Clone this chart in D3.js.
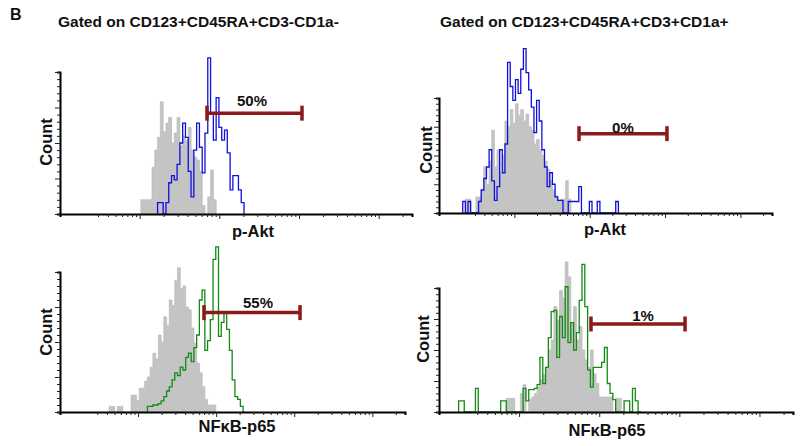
<!DOCTYPE html>
<html>
<head>
<meta charset="utf-8">
<script src="https://cdn.jsdelivr.net/npm/d3@7"></script>
<style>
body { margin: 0; background: #fff; }
text { font-family: "Liberation Sans", Arial, sans-serif; font-weight: bold; fill: #111; }
</style>
</head>
<body>
<script>
// histogram bins: equal width on the log axis
const binStep = 0.035;   // decades per bin
const logMin = 1;        // axis starts at 10^1
const maxValue = 262144; // axis ends at 2^18

const titles = ["Gated on CD123+CD45RA+CD3-CD1a-", "Gated on CD123+CD45RA+CD3+CD1a+"];
const markers = ["p-Akt", "p-Akt", "NF\u03BAB-p65", "NF\u03BAB-p65"];

// p-Akt, CD3-CD1a- (grey = control, blue = stain)
const aktNegCtrlStart = 29;
const aktNegCtrl = [10, 10, 10, 10, 33, 45, 54, 79, 58, 64, 68, 50, 57, 68, 48, 55, 52, 61, 45, 40, 38, 30, 6, 0, 12, 31, 10];
const aktNegStainStart = 35;
const aktNegStain = [8, 8, 0, 8, 22, 27, 24, 35, 50, 64, 54, 30, 12, 45, 64, 47, 29, 57, 110, 71, 52, 82, 61, 52, 59, 43, 17, 27, 27, 17, 8];

// p-Akt, CD3+CD1a+
const aktPosCtrlStart = 10;
const aktPosCtrl = [12, 12, 0, 0, 14, 14, 20, 40, 25, 45, 72, 40, 55, 35, 50, 80, 75, 90, 78, 95, 85, 90, 80, 86, 75, 72, 60, 64, 55, 50, 45, 38, 28, 20, 15, 10, 12, 12, 28, 12];
const aktPosStainStart = 9;
const aktPosStain = [10, 0, 10, 0, 0, 0, 10, 20, 30, 40, 55, 28, 11, 23, 55, 35, 60, 131, 110, 98, 116, 104, 125, 143, 122, 107, 92, 70, 98, 80, 55, 40, 23, 35, 25, 14, 11, 11, 0, 0, 10, 10, 10, 10, 23, 0, 0, 0, 10, 0, 0, 10, 0, 0, 0, 0, 0, 0, 10];

// NFkB-p65, CD3-CD1a- (grey = control, green = stain)
const nfkbNegCtrlStart = 18;
const nfkbNegCtrl = [4, 4, 0, 4, 4, 0, 0, 0, 12, 12, 8, 17, 17, 22, 25, 32, 42, 38, 55, 50, 68, 62, 80, 76, 94, 103, 88, 90, 75, 73, 60, 49, 35, 28, 18, 9, 5, 5, 5];
const nfkbNegStainStart = 32;
const nfkbNegStain = [4, 4, 5, 5, 6, 8, 11, 15, 18, 23, 28, 26, 32, 30, 39, 42, 36, 46, 55, 80, 87, 44, 51, 66, 109, 118, 54, 64, 71, 59, 44, 23, 11, 9, 4];

// NFkB-p65, CD3+CD1a+
const nfkbPosCtrlStart = 24;
const nfkbPosCtrl = [11, 11, 11, 0, 0, 15, 22, 0, 10, 12, 15, 20, 26, 30, 36, 50, 58, 85, 74, 98, 92, 121, 109, 72, 85, 58, 69, 50, 42, 36, 50, 31, 23, 12, 12, 12, 12, 12, 0, 11, 11];
const nfkbPosStainStart = 7;
const nfkbPosStain = [9, 9, 0, 0, 0, 0, 19, 0, 0, 0, 0, 0, 0, 0, 0, 9, 9, 0, 0, 0, 0, 0, 0, 19, 9, 18, 18, 19, 22, 44, 23, 36, 60, 81, 82, 44, 77, 60, 101, 56, 72, 50, 64, 90, 119, 85, 34, 20, 36, 36, 36, 40, 52, 23, 15, 10, 0, 0, 0, 9, 9, 0, 19, 9, 0];

// gates
const gateLow = [700, 721, 698, 789];
const gateHigh = [10910, 10590, 11860, 11780];
const gateCount = [71, 69, 71, 71];
const gatePct = ["50%", "0%", "55%", "1%"];
const pctAt = [2570, 2760, 3440, 3520];
const pctCount = [76, 70, 74, 73];

const series = [
  {ctrlStart: aktNegCtrlStart, ctrl: aktNegCtrl, stainStart: aktNegStainStart, stain: aktNegStain, color: "#1010e0"},
  {ctrlStart: aktPosCtrlStart, ctrl: aktPosCtrl, stainStart: aktPosStainStart, stain: aktPosStain, color: "#1010e0"},
  {ctrlStart: nfkbNegCtrlStart, ctrl: nfkbNegCtrl, stainStart: nfkbNegStainStart, stain: nfkbNegStain, color: "#138a13"},
  {ctrlStart: nfkbPosCtrlStart, ctrl: nfkbPosCtrl, stainStart: nfkbPosStainStart, stain: nfkbPosStain, color: "#138a13"}
];

const layout = [
  {x0: 60, x1: 412, top: 72, base: 214, countX: 52, countY: 142, labelX: 253, labelY: 237},
  {x0: 439, x1: 772, top: 98, base: 213, countX: 432, countY: 150, labelX: 605, labelY: 235},
  {x0: 60, x1: 405, top: 272, base: 412, countX: 52, countY: 332, labelX: 237, labelY: 432},
  {x0: 439, x1: 793, top: 288, base: 412, countX: 429, countY: 339, labelX: 607, labelY: 436}
];

const svg = d3.select("body").append("svg")
    .attr("width", 800)
    .attr("height", 446);

svg.append("text").attr("x", 10).attr("y", 19.5).style("font-size", "16px").text("B");
svg.append("text").attr("x", 58).attr("y", 26.5).style("font-size", "15.5px").text(titles[0]);
svg.append("text").attr("x", 440).attr("y", 26.5).style("font-size", "15.5px").text(titles[1]);

layout.forEach((p, i) => {
    const s = series[i];
    const g = svg.append("g");

    const x = d3.scaleLog().domain([10 ** logMin, maxValue]).range([p.x0, p.x1]);
    const y = d3.scaleLinear().domain([0, 100]).range([p.base, p.top]);
    const edge = k => x(10 ** (logMin + k * binStep));

    function steps(start, counts) {
        const pts = [{x: edge(start), c: 0}];
        counts.forEach((c, k) => pts.push({x: edge(start + k), c: c}));
        pts.push({x: edge(start + counts.length), c: 0});
        return pts;
    }

    const area = d3.area()
        .x(d => d.x)
        .y0(y(0))
        .y1(d => y(d.c))
        .curve(d3.curveStepAfter);

    const line = d3.line()
        .x(d => d.x)
        .y(d => y(d.c))
        .curve(d3.curveStepAfter);

    g.append("path")
        .datum(steps(s.ctrlStart, s.ctrl))
        .attr("d", area)
        .attr("fill", "#c4c4c4")
        .attr("stroke", "#bcbcbc")
        .attr("stroke-width", 0.8);

    g.append("path")
        .datum(steps(s.stainStart, s.stain))
        .attr("d", line)
        .attr("fill", "none")
        .attr("stroke", s.color)
        .attr("stroke-width", 1.3);

    // x axis (log, no labels)
    const isDecade = v => Math.abs(Math.log10(v) - Math.round(Math.log10(v))) < 1e-9;
    const xAxis = g.append("g")
        .attr("transform", `translate(0,${p.base})`)
        .call(d3.axisBottom(x)
            .tickValues(x.ticks().filter(v => v >= 30))
            .tickFormat("")
            .tickSizeOuter(0)
            .tickSize(3));
    xAxis.select(".domain").attr("stroke", "#000").attr("stroke-width", 2);
    xAxis.selectAll(".tick line")
        .attr("stroke", "#222")
        .attr("y2", d => isDecade(d) ? 5 : 3);

    // y axis
    const yAxis = g.append("g")
        .attr("transform", `translate(${p.x0},0)`)
        .call(d3.axisLeft(y)
            .tickValues(d3.range(0, 101, 5))
            .tickFormat("")
            .tickSizeOuter(0)
            .tickSize(3));
    yAxis.select(".domain").attr("stroke", "#000").attr("stroke-width", 2);
    yAxis.selectAll(".tick line")
        .attr("stroke", "#222")
        .attr("x2", d => d % 25 === 0 ? -5 : -3);

    // gate
    const gy = y(gateCount[i]);
    const gx0 = x(gateLow[i]), gx1 = x(gateHigh[i]);
    const red = "#8b1a1a";
    g.append("line").attr("x1", gx0).attr("x2", gx1).attr("y1", gy).attr("y2", gy)
        .attr("stroke", red).attr("stroke-width", 3.5);
    [gx0, gx1].forEach(gx => {
        g.append("line").attr("x1", gx).attr("x2", gx).attr("y1", gy - 7.5).attr("y2", gy + 7.5)
            .attr("stroke", red).attr("stroke-width", 3.5);
    });
    g.append("text")
        .attr("x", x(pctAt[i]))
        .attr("y", y(pctCount[i]))
        .attr("text-anchor", "middle")
        .style("font-size", "15px")
        .text(gatePct[i]);

    // labels
    g.append("text")
        .attr("transform", `translate(${p.countX},${p.countY}) rotate(-90)`)
        .attr("text-anchor", "middle")
        .style("font-size", "16.5px")
        .text("Count");
    g.append("text")
        .attr("x", p.labelX)
        .attr("y", p.labelY)
        .attr("text-anchor", "middle")
        .style("font-size", "16.5px")
        .text(markers[i]);
});
</script>
</body>
</html>
